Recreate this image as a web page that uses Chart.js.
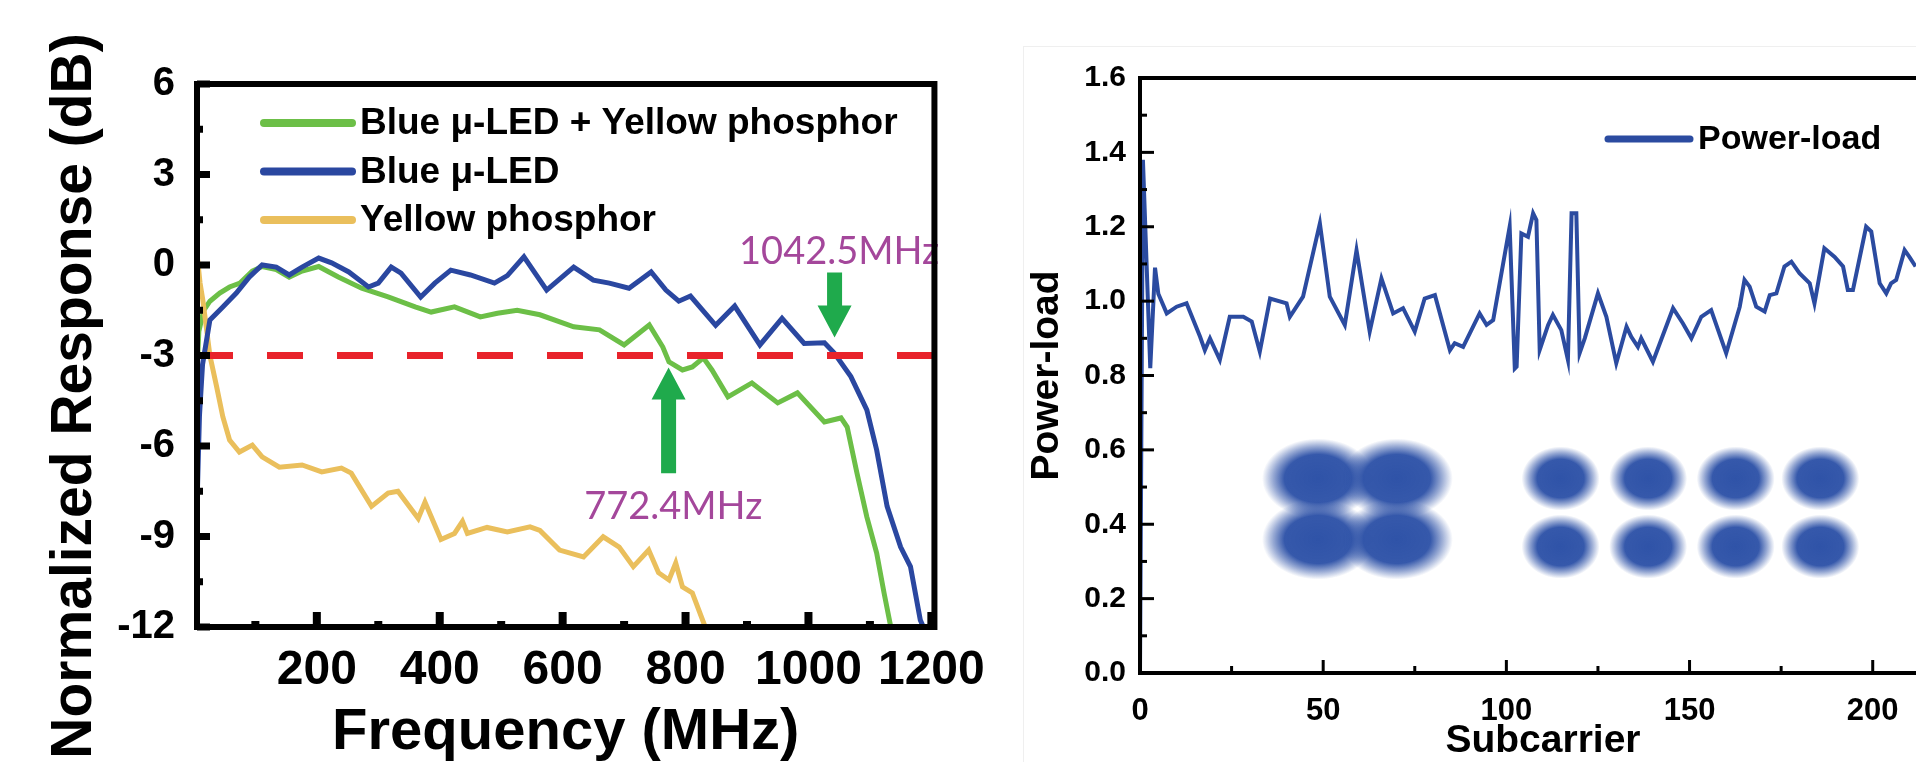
<!DOCTYPE html>
<html>
<head>
<meta charset="utf-8">
<script src="https://cdn.jsdelivr.net/npm/chart.js@4.4.1/dist/chart.umd.min.js"></script>
<style>
  html, body { margin: 0; padding: 0; background: #fff; overflow: hidden; width: 1916px; height: 762px; }
  #left { position: absolute; left: 0; top: 0; }
  #right { position: absolute; left: 1000px; top: 0; }
  #edge { position: absolute; left: 1023px; top: 46px; width: 1000px; height: 800px;
          border-left: 1px solid #efefef; border-top: 1px solid #efefef; }
</style>
</head>
<body>
<div id="edge"></div>
<canvas id="left" width="1000" height="762"></canvas>
<canvas id="right" width="1000" height="762"></canvas>
<script>
// ---- left panel: normalized frequency response ----
const freqTicks = [200, 400, 600, 800, 1000, 1200];
const freqMinor = [100, 300, 500, 700, 900, 1100];
const dbTicks = [6, 3, 0, -3, -6, -9, -12];
const dbMinor = [4.5, 1.5, -1.5, -4.5, -7.5, -10.5];

const freqGreen = [4, 8, 16, 26, 42, 58, 75, 95, 111, 134, 155, 176, 203, 235, 273, 316, 360, 386, 424, 466, 494, 526, 563, 618, 660, 700, 724, 741, 763, 773, 795, 811, 829, 843, 869, 908, 950, 982, 1026, 1053, 1063, 1079, 1095, 1111, 1123, 1134];
const respGreen = [-4, -2.2, -1.5, -1.2, -0.93, -0.73, -0.6, -0.2, -0.05, -0.15, -0.4, -0.2, -0.05, -0.4, -0.77, -1.06, -1.39, -1.56, -1.39, -1.72, -1.6, -1.5, -1.65, -2.05, -2.15, -2.65, -2.26, -1.99, -2.72, -3.21, -3.48, -3.38, -3.08, -3.48, -4.37, -3.91, -4.57, -4.24, -5.2, -5.07, -5.37, -6.9, -8.35, -9.55, -10.87, -12];

const freqBlue = [2, 5, 9, 14, 26, 47, 69, 90, 111, 134, 155, 176, 203, 224, 252, 284, 300, 321, 337, 369, 392, 418, 450, 489, 510, 537, 574, 618, 650, 676, 708, 744, 768, 789, 808, 849, 880, 921, 957, 993, 1026, 1042, 1069, 1095, 1111, 1128, 1150, 1166, 1182, 1187];
const respBlue = [-12, -8, -5, -3.3, -1.82, -1.39, -0.93, -0.4, 0.0, -0.07, -0.33, -0.07, 0.23, 0.07, -0.23, -0.73, -0.6, -0.07, -0.27, -1.06, -0.6, -0.17, -0.33, -0.6, -0.35, 0.27, -0.83, -0.07, -0.5, -0.6, -0.77, -0.23, -0.83, -1.2, -1.03, -2.0, -1.36, -2.65, -1.77, -2.6, -2.58, -2.92, -3.7, -4.8, -6.13, -8.0, -9.35, -10.0, -11.77, -12];

const freqYellow = [6, 10, 14.5, 26, 37, 47, 58, 74, 95, 111, 139, 176, 208, 240, 256, 289, 316, 332, 365, 376, 402, 424, 437, 445, 477, 510, 547, 563, 595, 634, 666, 692, 715, 740, 756, 773, 784, 795, 811, 832];
const respYellow = [0.17, -0.6, -1.16, -3.0, -4.04, -5.03, -5.8, -6.2, -5.97, -6.36, -6.7, -6.63, -6.86, -6.73, -6.9, -8.0, -7.56, -7.5, -8.4, -7.86, -9.1, -8.9, -8.5, -8.9, -8.7, -8.85, -8.68, -8.8, -9.45, -9.68, -9.01, -9.35, -10.0, -9.45, -10.2, -10.44, -9.88, -10.67, -10.87, -12];

const refLevel = -3;
const cutoffs = [
  { text: '1042.5MHz', freq: 1042.5, from: -0.25, to: -2.4, tx: 1050, ty: 0.43 },
  { text: '772.4MHz', freq: 772.4, from: -6.9, to: -3.4, tx: 780, ty: -8.02 }
];

// ---- right panel: power loading ----
const subTicks = [0, 50, 100, 150, 200];
const subMinor = [25, 75, 125, 175];
const loadTicks = [0, 0.2, 0.4, 0.6, 0.8, 1.0, 1.2, 1.4, 1.6];
const loadMinor = [0.1, 0.3, 0.5, 0.7, 0.9, 1.1, 1.3, 1.5];

const subcarrier = [0, 0.8, 2.8, 4.1, 5, 7.3, 10, 12.7, 16.4, 17.7, 19.1, 21.8, 24.5, 28.2, 30.5, 32.7, 35.5, 40, 40.9, 44.5, 49.1, 51.8, 55.9, 59.1, 62.7, 65.9, 69.1, 71.8, 75, 77.7, 80.5, 84.6, 85.9, 88.2, 92.7, 94.6, 96.4, 100.9, 102.3, 102.8, 104.1, 105.9, 107.3, 108.2, 109.1, 111.4, 112.7, 115, 116.8, 117.8, 119.1, 120, 121.4, 125, 127.3, 130, 132.8, 134.1, 135.9, 136.8, 140, 145.5, 148.2, 150.5, 153.2, 155.9, 160, 163.7, 165, 166.4, 168.2, 170.5, 171.9, 173.7, 175.9, 177.8, 180, 182.8, 184.1, 186.8, 189.6, 191.9, 193.2, 194.6, 198.2, 199.6, 201.9, 203.7, 205, 206.4, 208.7, 210, 211.7];
const powerLoad = [0, 1.38, 0.82, 1.09, 1.02, 0.967, 0.985, 0.994, 0.904, 0.868, 0.9, 0.842, 0.958, 0.958, 0.945, 0.864, 1.007, 0.994, 0.958, 1.012, 1.209, 1.012, 0.936, 1.137, 0.918, 1.061, 0.967, 0.981, 0.918, 1.007, 1.016, 0.868, 0.887, 0.877, 0.967, 0.936, 0.949, 1.2, 0.819, 0.824, 1.182, 1.173, 1.236, 1.218, 0.869, 0.936, 0.963, 0.922, 0.842, 1.236, 1.236, 0.86, 0.9, 1.021, 0.958, 0.833, 0.931, 0.904, 0.877, 0.9, 0.837, 0.981, 0.94, 0.9, 0.958, 0.976, 0.86, 0.985, 1.057, 1.039, 0.985, 0.972, 1.016, 1.021, 1.093, 1.106, 1.075, 1.048, 0.994, 1.142, 1.119, 1.093, 1.03, 1.03, 1.2, 1.187, 1.048, 1.021, 1.048, 1.057, 1.137, 1.119, 1.093];

// constellation cluster centres (in subcarrier / power-load units)
const qpskX = [48.6, 70.1];
const qpskY = [0.523, 0.359];
const qam8X = [114.8, 138.7, 162.6, 185.7];
const qam8Y = [0.523, 0.34];

const pts = (xs, ys) => xs.map((x, i) => ({ x: x, y: ys[i] }));

const FONT = '"Liberation Sans", Arial, sans-serif';
Chart.defaults.font.family = FONT;
Chart.defaults.color = '#000';

// inward ticks, frame, legend, notes and constellation blobs
const framePlugin = {
  id: 'frame',
  beforeDatasetsDraw(chart, args, o) {
    if (!o.blobs) return;
    const { ctx, scales: { x, y } } = chart;
    o.blobs.forEach(b => {
      b.xs.forEach(cx => b.ys.forEach(cy => {
        const px = x.getPixelForValue(cx), py = y.getPixelForValue(cy);
        ctx.save();
        ctx.translate(px, py);
        ctx.scale(1, b.ry / b.rx);
        const g = ctx.createRadialGradient(0, 0, 0, 0, 0, b.rx);
        g.addColorStop(0, 'rgba(47,83,168,1)');
        g.addColorStop(0.6, 'rgba(47,83,168,0.97)');
        g.addColorStop(0.8, 'rgba(47,83,168,0.5)');
        g.addColorStop(1, 'rgba(47,83,168,0)');
        ctx.fillStyle = g;
        ctx.beginPath();
        ctx.arc(0, 0, b.rx, 0, Math.PI * 2);
        ctx.fill();
        ctx.restore();
      }));
    });
  },
  afterDatasetsDraw(chart, args, o) {
    const { ctx, chartArea: a, scales: { x, y } } = chart;
    ctx.save();

    (o.cutoffs || []).forEach(c => {
      const px = x.getPixelForValue(c.freq);
      const y0 = y.getPixelForValue(c.from), y1 = y.getPixelForValue(c.to);
      const dir = Math.sign(y1 - y0), sw = 15, hw = 34, hl = 32;
      const yb = y1 - dir * hl;
      ctx.fillStyle = '#1faa4c';
      ctx.beginPath();
      ctx.moveTo(px - sw / 2, y0); ctx.lineTo(px + sw / 2, y0);
      ctx.lineTo(px + sw / 2, yb); ctx.lineTo(px + hw / 2, yb);
      ctx.lineTo(px, y1); ctx.lineTo(px - hw / 2, yb);
      ctx.lineTo(px - sw / 2, yb); ctx.closePath();
      ctx.fill();
      ctx.fillStyle = '#a4479b';
      ctx.font = '38px Lato, "Open Sans", sans-serif';
      ctx.textAlign = 'center';
      ctx.textBaseline = 'middle';
      ctx.fillText(c.text, x.getPixelForValue(c.tx), y.getPixelForValue(c.ty));
    });

    // legend
    const L = o.legend;
    const items = chart.data.datasets.filter(d => !d.noLegend);
    ctx.font = 'bold ' + L.size + 'px ' + FONT;
    ctx.textAlign = 'left';
    ctx.textBaseline = 'middle';
    ctx.lineCap = 'round';
    items.forEach((d, i) => {
      const ly = L.y + i * L.step;
      ctx.strokeStyle = d.borderColor;
      ctx.lineWidth = L.lw;
      ctx.beginPath();
      ctx.moveTo(L.x0, ly); ctx.lineTo(L.x1, ly);
      ctx.stroke();
      ctx.fillStyle = '#000';
      ctx.fillText(d.label, L.tx, ly + 1);
    });

    // inward ticks
    ctx.fillStyle = '#000';
    const t = o.ticks;
    t.xMajor.forEach(v => { const p = x.getPixelForValue(v); ctx.fillRect(p - t.xw / 2, a.bottom - t.xLen, t.xw, t.xLen); });
    t.xMinor.forEach(v => { const p = x.getPixelForValue(v); ctx.fillRect(p - t.xw / 2, a.bottom - t.xMin, t.xw, t.xMin); });
    t.yMajor.forEach(v => { const p = y.getPixelForValue(v); ctx.fillRect(a.left, p - t.yw / 2, t.yLen, t.yw); });
    t.yMinor.forEach(v => { const p = y.getPixelForValue(v); ctx.fillRect(a.left, p - t.yw / 2, t.yMin, t.yw); });

    ctx.strokeStyle = '#000';
    ctx.lineWidth = o.frame;
    ctx.lineCap = 'butt';
    ctx.strokeRect(a.left, a.top, a.right - a.left, a.bottom - a.top);

    // y-axis title placed on its own (it sits lower than the plot centre)
    if (o.yTitle) {
      ctx.translate(o.yTitle.x, o.yTitle.y);
      ctx.rotate(-Math.PI / 2);
      ctx.font = 'bold ' + o.yTitle.size + 'px ' + FONT;
      ctx.textAlign = 'center';
      ctx.textBaseline = 'middle';
      ctx.fillText(o.yTitle.text, 0, 0);
    }
    ctx.restore();
  }
};

new Chart(document.getElementById('left'), {
  type: 'line',
  data: {
    datasets: [
      { label: 'Blue \u03bc-LED + Yellow phosphor', data: pts(freqGreen, respGreen), borderColor: '#6cbf47', borderWidth: 5, order: 3 },
      { label: 'Blue \u03bc-LED', data: pts(freqBlue, respBlue), borderColor: '#2a47a0', borderWidth: 5, order: 1 },
      { label: 'Yellow phosphor', data: pts(freqYellow, respYellow), borderColor: '#eabf5c', borderWidth: 5, order: 2 },
      { label: '-3 dB', noLegend: true, data: [{ x: 5, y: refLevel }, { x: 1205, y: refLevel }], borderColor: '#e8232b', borderWidth: 7, borderDash: [36, 34], order: 0 }
    ]
  },
  options: {
    responsive: false,
    animation: false,
    devicePixelRatio: 1,
    layout: { padding: { top: 84, right: 60, left: 0, bottom: 0 } },
    elements: { point: { radius: 0 }, line: { tension: 0 } },
    plugins: {
      legend: { display: false },
      tooltip: { enabled: false },
      frame: {
        frame: 6,
        cutoffs: cutoffs,
        yTitle: { text: 'Normalized Response (dB)', x: 75, y: 396, size: 57 },
        legend: { x0: 264, x1: 352, tx: 360, y: 123, step: 48.5, lw: 8, size: 37 },
        ticks: { xMajor: freqTicks, xMinor: freqMinor, yMajor: dbTicks, yMinor: dbMinor,
                 xw: 8, xLen: 15, xMin: 6, yw: 7, yLen: 13, yMin: 6 }
      }
    },
    scales: {
      x: {
        type: 'linear', min: 5, max: 1205,
        afterBuildTicks: s => { s.ticks = freqTicks.map(v => ({ value: v })); },
        afterFit: s => { s.height = 135; },
        grid: { display: false, drawTicks: false },
        border: { display: false },
        ticks: { autoSkip: false, maxRotation: 0, padding: 15, font: { size: 48, weight: 'bold' }, callback: v => String(v) },
        title: { display: true, text: 'Frequency (MHz)', font: { size: 58, weight: 'bold', lineHeight: 1 }, padding: { top: 0, bottom: 0 } }
      },
      y: {
        min: -12, max: 6,
        afterBuildTicks: s => { s.ticks = dbTicks.map(v => ({ value: v })); },
        afterFit: s => { s.width = 197; },
        grid: { display: false, drawTicks: false },
        border: { display: false },
        ticks: { padding: 22, font: { size: 40, weight: 'bold' }, callback: v => String(v) },
        title: { display: false }
      }
    }
  },
  plugins: [framePlugin]
});

new Chart(document.getElementById('right'), {
  type: 'line',
  data: {
    datasets: [
      { label: 'Power-load', data: pts(subcarrier, powerLoad), borderColor: '#2b4ba0', borderWidth: 4 }
    ]
  },
  options: {
    responsive: false,
    animation: false,
    devicePixelRatio: 1,
    layout: { padding: { top: 78, right: 54, left: 0, bottom: 0 } },
    elements: { point: { radius: 0 }, line: { tension: 0 } },
    plugins: {
      legend: { display: false },
      tooltip: { enabled: false },
      frame: {
        frame: 4,
        blobs: [
          { xs: qpskX, ys: qpskY, rx: 56, ry: 40 },
          { xs: qam8X, ys: qam8Y, rx: 39, ry: 32 }
        ],
        legend: { x0: 608, x1: 690, tx: 698, y: 139, step: 0, lw: 7, size: 34 },
        ticks: { xMajor: subTicks, xMinor: subMinor, yMajor: loadTicks, yMinor: loadMinor,
                 xw: 3, xLen: 13, xMin: 7, yw: 3, yLen: 14, yMin: 7 }
      }
    },
    scales: {
      x: {
        type: 'linear', min: 0, max: 220,
        afterBuildTicks: s => { s.ticks = subTicks.map(v => ({ value: v })); },
        afterFit: s => { s.height = 89; },
        grid: { display: false, drawTicks: false },
        border: { display: false },
        ticks: { autoSkip: false, maxRotation: 0, padding: 20, font: { size: 31, weight: 'bold' }, callback: v => String(v) },
        title: { display: true, text: 'Subcarrier', font: { size: 39, weight: 'bold', lineHeight: 1 }, padding: { top: 0, bottom: 1 } }
      },
      y: {
        min: 0, max: 1.6,
        afterBuildTicks: s => { s.ticks = loadTicks.map(v => ({ value: v })); },
        afterFit: s => { s.width = 140; },
        grid: { display: false, drawTicks: false },
        border: { display: false },
        ticks: { padding: 14, font: { size: 30, weight: 'bold' }, callback: v => v.toFixed(1) },
        title: { display: true, text: 'Power-load', font: { size: 39, weight: 'bold', lineHeight: 1 }, padding: { top: 28, bottom: 0 } }
      }
    }
  },
  plugins: [framePlugin]
});
</script>
</body>
</html>
